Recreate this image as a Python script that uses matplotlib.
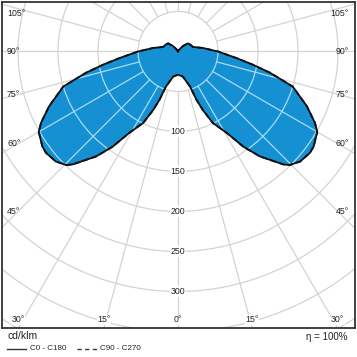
"""
Photometric polar diagram (cd/klm), batwing light distribution.
"""
import numpy as np
import matplotlib.pyplot as plt
from matplotlib.patches import Polygon, Circle
from matplotlib.lines import Line2D

plt.rcParams['font.family'] = ['Liberation Sans', 'DejaVu Sans']

# gamma angle (deg from nadir) and luminous intensity (cd/klm)
gamma_deg = [0, 11, 19, 21, 23, 26, 31, 34.5, 38, 43, 44.5, 48, 52.5, 55, 60, 62.5,
             67, 73, 77, 80, 83.5, 90, 98, 107, 120, 129.5, 137.5, 147, 180]
c0_c180 = [29, 32, 46.5, 65, 79.5, 99.5, 119, 144.5, 166.5, 193, 199, 205.5, 208, 207, 201, 193,
           175, 150, 118, 95, 74, 50, 31.5, 19.5, 17.5, 16, 9.5, 3, 0]
c90_c270 = list(c0_c180)

ring_values = [100, 150, 200, 250, 300]
side_angles = [45, 60, 75, 90, 105]
bottom_angles = [30, 15, 0]
eta_text = "\u03b7 = 100%"

# layout: pixel geometry of the 357 px figure
W = H = 357
PX = 0.8                     # pixels per cd/klm
cx, cy = 178, 51.5           # polar centre in pixels
left, right, top, bottom = 2, 355, 2, 328

fig = plt.figure(figsize=(W / 100, H / 100), dpi=100)
ax = fig.add_axes([left / W, 1 - bottom / H, (right - left) / W, (bottom - top) / H])
ax.set_xlim((left - cx) / PX, (right - cx) / PX)
ax.set_ylim(-(bottom - cy) / PX, (cy - top) / PX)
ax.set_xticks([])
ax.set_yticks([])
for sp in ax.spines.values():
    sp.set_linewidth(1.3)
    sp.set_color('#333333')


def draw_grid(color, lw, zorder, clip=None):
    arts = []
    for r in range(50, 501, 50):
        c = Circle((0, 0), r, fill=False, ec=color, lw=lw, zorder=zorder)
        ax.add_patch(c)
        arts.append(c)
    for a in range(0, 360, 15):
        t = np.radians(a)
        ln, = ax.plot([50 * np.sin(t), 600 * np.sin(t)],
                      [-50 * np.cos(t), -600 * np.cos(t)],
                      color=color, lw=lw, zorder=zorder)
        arts.append(ln)
    if clip is not None:
        for art in arts:
            art.set_clip_path(clip)


def outline(vals):
    g = np.radians(gamma_deg)
    r = np.array(vals, dtype=float)
    xs = np.concatenate([-r[::-1] * np.sin(g[::-1]), r * np.sin(g)])
    ys = np.concatenate([-r[::-1] * np.cos(g[::-1]), -r * np.cos(g)])
    return xs, ys


# outer grey grid
draw_grid('#d3d3d3', 0.9, 1)

# closed curve: C180 side (left) then C0 side (right)
xs, ys = outline(c0_c180)
lobe = Polygon(np.column_stack([xs, ys]), closed=True, fc='#1590d3', ec='none', zorder=2)
ax.add_patch(lobe)

# light grid over the fill
draw_grid('#a8dcf5', 0.9, 3, clip=lobe)

ax.plot(np.append(xs, xs[0]), np.append(ys, ys[0]), color='#111111', lw=1.3, zorder=4)
xs2, ys2 = outline(c90_c270)
ax.plot(xs2, ys2, color='#111111', lw=1.3, ls=(0, (3, 2)), zorder=5)

# ring value labels on the 0 deg axis
for v in ring_values:
    ax.text(0, -v, str(v), ha='center', va='center', fontsize=6.3, color='#222222', zorder=6,
            bbox=dict(fc='white', ec='none', pad=0.6))

# angle labels around the frame
side_x = 160 / PX
y_max = (cy - 14) / PX
for a in side_angles:
    t = np.radians(a)
    y = min(-side_x * np.cos(t) / np.sin(t), y_max)
    ax.text(-(171 / PX), y, f"{a}\u00b0", ha='left', va='center', fontsize=6.3, color='#222222', zorder=6)
    ax.text(171 / PX, y, f"{a}\u00b0", ha='right', va='center', fontsize=6.3, color='#222222', zorder=6)
bot_y = (bottom - cy) / PX
lab_y = -(320 - cy) / PX
for a in bottom_angles:
    x = bot_y * np.tan(np.radians(a))
    for s in ([1] if a == 0 else [-1, 1]):
        ax.text(s * x, lab_y, f"{a}\u00b0", ha='center', va='center', fontsize=6.3,
                color='#222222', zorder=6,
                bbox=dict(fc='white', ec='none', pad=0.3))

# units, legend and efficiency below the frame
fig.text(7 / W, 1 - 339 / H, "cd/klm", ha='left', va='baseline', fontsize=7.5, color='#222222')
fig.text(348 / W, 1 - 339.5 / H, eta_text, ha='right', va='baseline', fontsize=7, color='#222222')
fig.add_artist(Line2D([7 / W, 26 / W], [1 - 349 / H] * 2, color='#333333', lw=1.0))
fig.text(30 / W, 1 - 349 / H, "C0 - C180", ha='left', va='center', fontsize=5.8, color='#222222')
fig.add_artist(Line2D([77 / W, 97 / W], [1 - 349 / H] * 2, color='#333333', lw=1.0, ls=(0, (3, 2.5))))
fig.text(100 / W, 1 - 349 / H, "C90 - C270", ha='left', va='center', fontsize=5.8, color='#222222')

fig.savefig('out.png', dpi=100)
